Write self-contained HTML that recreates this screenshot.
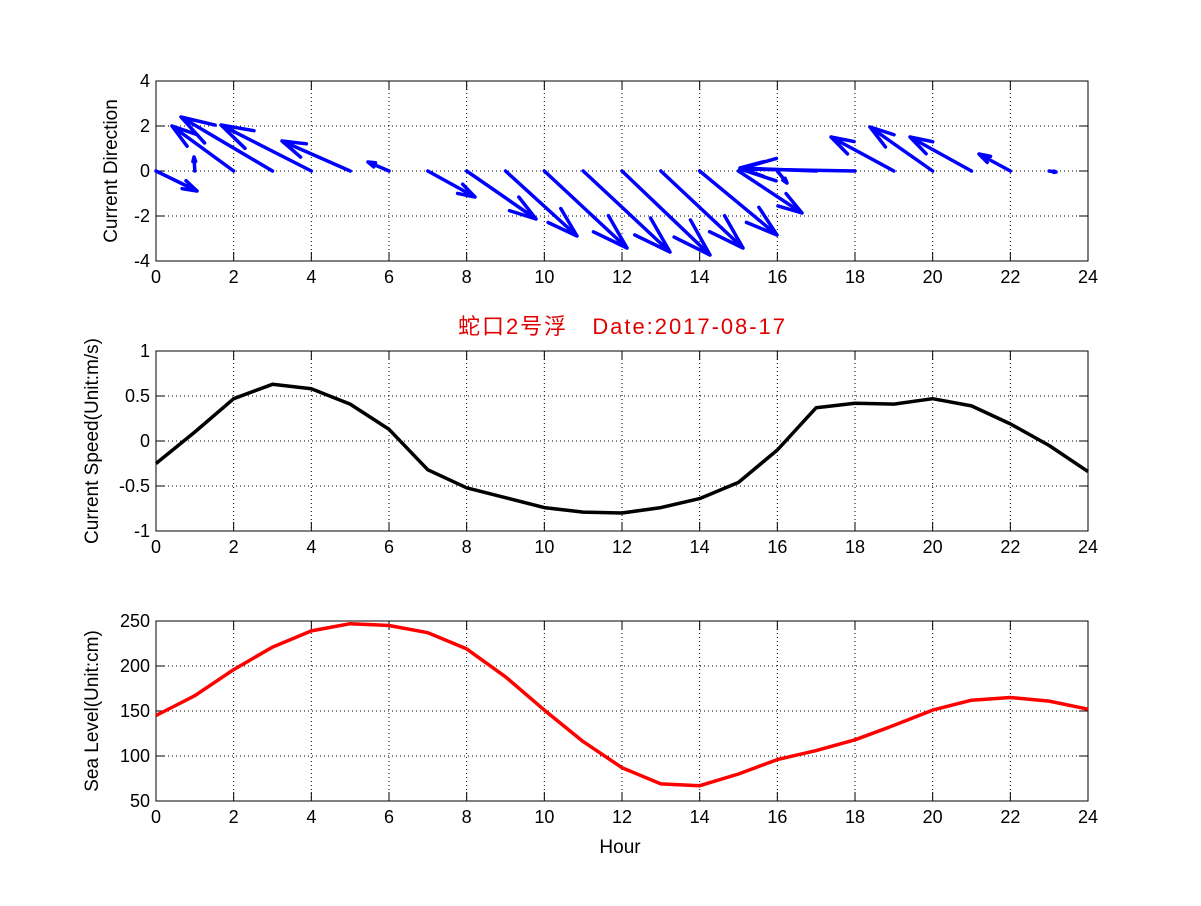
<!DOCTYPE html>
<html><head><meta charset="utf-8"><style>
body{margin:0;background:#fff}
svg text{font-family:"Liberation Sans","Noto Sans CJK SC",sans-serif}
</style></head><body>
<svg id="s" width="1201" height="901" xmlns="http://www.w3.org/2000/svg"></svg>
<script>
const s=document.getElementById('s');let h='';
const X0=156,X1=1088,xs=h2=>X0+(X1-X0)*h2/24;
function axes(top,bot,ymin,ymax,ystep,label,fmt){
  const ys=v=>bot-(v-ymin)/(ymax-ymin)*(bot-top);
  for(let t=2;t<24;t+=2)h+=`<line x1="${xs(t)}" y1="${top}" x2="${xs(t)}" y2="${bot}" stroke="#000" stroke-width="1" stroke-dasharray="1,3"/>`;
  for(let v=ymin+ystep;v<ymax-1e-9;v+=ystep)h+=`<line x1="${X0}" y1="${ys(v)}" x2="${X1}" y2="${ys(v)}" stroke="#000" stroke-width="1" stroke-dasharray="1,3"/>`;
  for(let t=0;t<=24;t+=2){h+=`<line x1="${xs(t)}" y1="${bot}" x2="${xs(t)}" y2="${bot-9}" stroke="#000"/><line x1="${xs(t)}" y1="${top}" x2="${xs(t)}" y2="${top+9}" stroke="#000"/>`;
    h+=`<text x="${xs(t)}" y="${bot+22}" font-size="18" text-anchor="middle">${t}</text>`;}
  for(let v=ymin;v<=ymax+1e-9;v+=ystep){h+=`<line x1="${X0}" y1="${ys(v)}" x2="${X0+9}" y2="${ys(v)}" stroke="#000"/><line x1="${X1}" y1="${ys(v)}" x2="${X1-9}" y2="${ys(v)}" stroke="#000"/>`;
    h+=`<text x="${X0-6}" y="${ys(v)+6}" font-size="18" text-anchor="end">${fmt(v)}</text>`;}
  h+=`<rect x="${X0}" y="${top}" width="${X1-X0}" height="${bot-top}" fill="none" stroke="#000" stroke-width="1"/>`;
  const cy=(top+bot)/2;
  h+=`<text transform="translate(${label[1]},${cy}) rotate(-90)" font-size="19" text-anchor="middle">${label[0]}</text>`;
  return ys;
}
const f=v=>String(Math.round(v*10)/10);
axes(81,261,-4,4,2,['Current Direction',117],f);
const A=[[0,197,191],[1,194,157],[2,172,126],[3,181,117],[4,221,125],[5,282,141],[6,368,162],[7,475,197],[8,536,219],[9,577,236],[10,627,248],[11,670,252],[12,710,255],[13,743,248],[14,777,235],[15,802,213],[16,787,183],[17,740,168],[18,740,169],[19,831,137],[20,870,127],[21,910,137],[22,979,154],[23,1056,172]];
for(const [t,tx,ty] of A){const ox=xs(t),oy=171;const dx=tx-ox,dy=ty-oy,L=Math.hypot(dx,dy);if(L<1)continue;
  const ux=dx/L,uy=dy/L,hl=L*0.33,a=0.3;
  const p1=[tx-hl*(ux*Math.cos(a)-uy*Math.sin(a)),ty-hl*(uy*Math.cos(a)+ux*Math.sin(a))];
  const p2=[tx-hl*(ux*Math.cos(a)+uy*Math.sin(a)),ty-hl*(uy*Math.cos(a)-ux*Math.sin(a))];
  h+=`<path d="M${ox},${oy}L${tx},${ty}M${p1}L${tx},${ty}L${p2}" stroke="#0000ff" stroke-width="3.5" fill="none" stroke-linecap="round" stroke-linejoin="round"/>`;}
const ys2=axes(351,531,-1,1,0.5,['Current Speed(Unit:m/s)',98],f);
const sp=[-0.25,0.1,0.47,0.63,0.58,0.41,0.13,-0.32,-0.52,-0.63,-0.74,-0.79,-0.8,-0.74,-0.64,-0.46,-0.1,0.37,0.42,0.41,0.47,0.39,0.19,-0.05,-0.34];
h+=`<polyline points="${sp.map((v,i)=>xs(i)+','+ys2(v)).join(' ')}" fill="none" stroke="#000" stroke-width="3.5" stroke-linejoin="round"/>`;
const ys3=axes(621,801,50,250,50,['Sea Level(Unit:cm)',98],v=>String(v));
const sl=[145,167,196,221,239,247,245,237,219,188,151,116,87,69,67,80,96,106,118,134,151,162,165,161,152];
h+=`<polyline points="${sl.map((v,i)=>xs(i)+','+ys3(v)).join(' ')}" fill="none" stroke="#ff0000" stroke-width="3.5" stroke-linejoin="round"/>`;
h+=`<text x="620" y="853" font-size="19" text-anchor="middle">Hour</text>`;
h+=`<text x="458" y="334" font-size="22" fill="#e00000" textLength="327" lengthAdjust="spacing" xml:space="preserve">蛇口2号浮   Date:2017-08-17</text>`;
s.innerHTML=h;
</script>
</body></html>
